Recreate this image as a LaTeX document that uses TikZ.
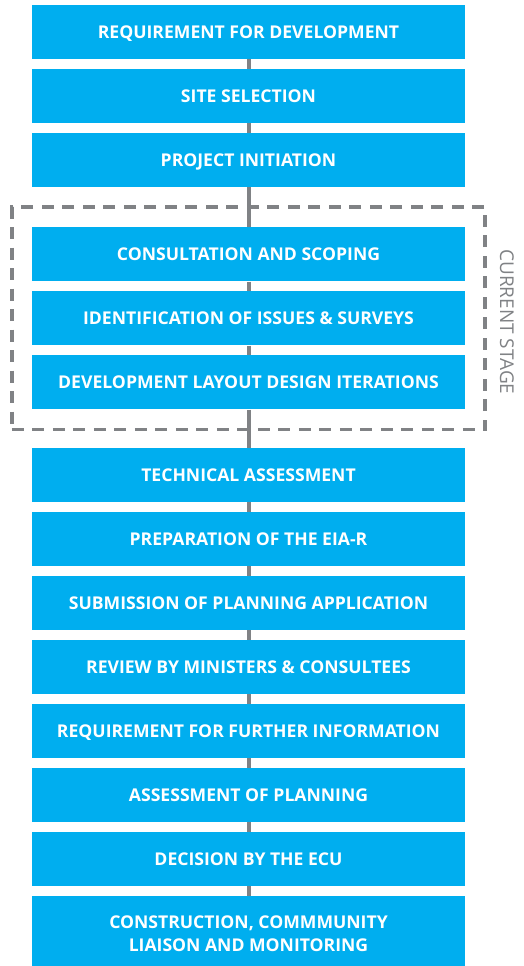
\documentclass[tikz,border=0pt]{standalone}
\usepackage{fontspec}
\setmainfont{Open Sans}
\usepackage{xcolor}
\usetikzlibrary{positioning,fit,backgrounds}
\definecolor{stepblue}{HTML}{00AEEF}
\definecolor{stagegray}{HTML}{808285}

\begin{document}
\begin{tikzpicture}[x=1pt,y=1pt,node distance=9.6pt,
  stepbox/.style={fill=stepblue,text=white,font=\bfseries\fontsize{17.6}{23}\selectfont,
    minimum width=433pt,minimum height=54pt,inner sep=0pt,text depth=0pt,align=center},
  link/.style={draw=stagegray,line width=4pt},
  stageframe/.style={draw=stagegray,line width=3.5pt,dash pattern=on 12pt off 8.5pt,inner sep=20pt}]
\useasboundingbox (0,0) rectangle (524,-966);
\node[stepbox] (n1) at (248.5,-32) {REQUIREMENT FOR DEVELOPMENT};
\node[stepbox,below=of n1] (n2) {SITE SELECTION};
\node[stepbox,below=of n2] (n3) {PROJECT INITIATION};
\node[stepbox,below=40pt of n3] (n4) {CONSULTATION AND SCOPING};
\node[stepbox,below=of n4] (n5) {IDENTIFICATION OF ISSUES \& SURVEYS};
\node[stepbox,below=of n5] (n6) {DEVELOPMENT LAYOUT DESIGN ITERATIONS};
\node[stepbox,below=38pt of n6] (n7) {TECHNICAL ASSESSMENT};
\node[stepbox,below=of n7] (n8) {PREPARATION OF THE EIA-R};
\node[stepbox,below=of n8] (n9) {SUBMISSION OF PLANNING APPLICATION};
\node[stepbox,below=of n9] (n10) {REVIEW BY MINISTERS \& CONSULTEES};
\node[stepbox,below=of n10] (n11) {REQUIREMENT FOR FURTHER INFORMATION};
\node[stepbox,below=of n11] (n12) {ASSESSMENT OF PLANNING};
\node[stepbox,below=of n12] (n13) {DECISION BY THE ECU};
\node[stepbox,below=of n13,minimum height=75pt] (n14) {CONSTRUCTION, COMMMUNITY\\LIAISON AND MONITORING};
% current stage
\node[stageframe,fit=(n4)(n6)] (stage) {};
\node[rotate=-90,text=stagegray,font=\fontsize{19}{22}\selectfont] (stagelabel) at ([xshift=20pt,yshift=-3.5pt]stage.east) {CURRENT STAGE};
\begin{scope}[on background layer]
\foreach \i [count=\j from 2] in {1,...,13}
  \draw[link] (n\i) -- (n\j);
\end{scope}
\end{tikzpicture}
\end{document}
